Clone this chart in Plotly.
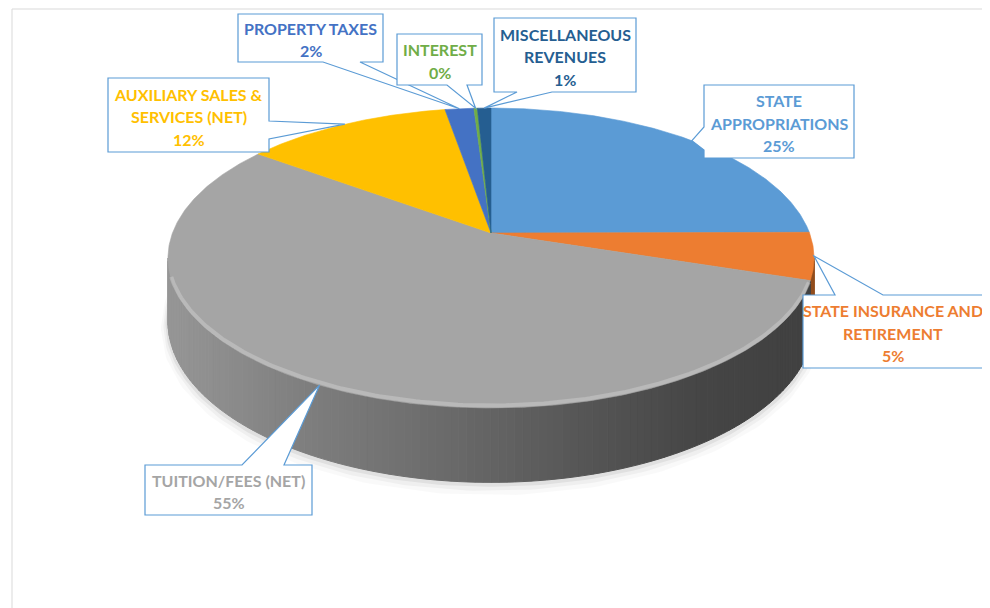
import numpy as np
import plotly.graph_objects as go

# ---------------- data ----------------
categories = ["STATE APPROPRIATIONS", "STATE INSURANCE AND RETIREMENT", "TUITION/FEES (NET)",
              "AUXILIARY SALES & SERVICES (NET)", "PROPERTY TAXES", "INTEREST", "MISCELLANEOUS REVENUES"]
label_lines = [["STATE", "APPROPRIATIONS"], ["STATE INSURANCE AND", "RETIREMENT"], ["TUITION/FEES (NET)"],
               ["AUXILIARY SALES &", "SERVICES (NET)"], ["PROPERTY TAXES"], ["INTEREST"],
               ["MISCELLANEOUS", "REVENUES"]]
values = [25.0, 5.1, 55.3, 12.2, 1.7, 0.2, 0.8]
colors = ["#5B9BD5", "#ED7D31", "#A5A5A5", "#FFC000", "#4472C4", "#70AD47", "#255E91"]

# ---------------- layout of the 3-D pie (pixel space of the page) ----------------
W, H = 990, 608
PAD = 8                    # page body margin
CX, CY = 491, 233          # pie apex
RA, RB = 318.5, 145.8      # horizontal / vertical radius of top face
PERS = 0.1667              # perspective factor
DEPTH = 62                 # wall height

# callout boxes: (x0, y0, x1, y1), edge of the pointer, pointer base positions, text centre x
callouts = [
    ((704, 85, 854, 158), "left", 127, 150, None),
    ((803, 295, 997, 368), "top", 835, 883, 893),
    ((145, 465, 312, 515), "top", 242, 284, None),
    ((108, 78, 269, 152), "right", 121, 139, None),
    ((238, 14, 383, 62), "bottom", 323, 360, None),
    ((397, 34, 482, 85), "bottom", 447, 467, None),
    ((494, 18, 636, 92), "bottom", 517, 552, None),
]
FONT = "Lato"
FSIZE = 16
LINE_GAP = 22.5
BORDER = "#5B9BD5"


def top_pt(theta):
    t = np.radians(theta)
    s = 1 + PERS * np.cos(t)
    return CX + RA * np.sin(t) / s, CY - RB * np.cos(t) / s


def bot_pt(theta):
    t = np.radians(theta)
    s = 1 + PERS * np.cos(t)
    x, y = top_pt(theta)
    return x, y + DEPTH / s


def hex_rgb(h):
    h = h.lstrip("#")
    return tuple(int(h[i:i + 2], 16) for i in (0, 2, 4))


def wall_shade(x):
    return float(np.interp(x, [170, 300, 450, 600, 700, 815], [150, 128, 106, 84, 70, 64]))


total = sum(values)
fracs = [v / total for v in values]
ends = np.cumsum(fracs) * 360
starts = np.concatenate([[0], ends[:-1]])

fig = go.Figure()

# shadow under the pie
th = np.linspace(75, 285, 200)
for off, wdt, alpha in [(6, 14, 0.025), (4, 9, 0.04), (2, 5, 0.06)]:
    pts = [bot_pt(t) for t in th]
    fig.add_trace(go.Scatter(x=[p[0] for p in pts], y=[p[1] + off for p in pts], mode="lines",
                             line=dict(color=f"rgba(0,0,0,{alpha})", width=wdt),
                             hoverinfo="skip", showlegend=False))

# side wall
vis0 = np.degrees(np.arccos(-PERS))
vis1 = 360 - vis0
for i in range(len(values)):
    a0, a1 = max(starts[i], vis0), min(ends[i], vis1)
    if a1 <= a0:
        continue
    n = max(1, int(np.ceil((a1 - a0) / 1.2)))
    edges = np.linspace(a0, a1, n + 1)
    base = hex_rgb(colors[i])
    for k in range(n):
        ta, tb = edges[k], edges[k + 1]
        p1, p2 = top_pt(ta), top_pt(tb)
        p3, p4 = bot_pt(tb), bot_pt(ta)
        g = wall_shade((p1[0] + p2[0]) / 2)
        if colors[i] == "#A5A5A5":
            c = (g, g, g)
        else:
            f = max(g / 165, 0.62)
            c = tuple(v * f for v in base)
        col = "rgb(%d,%d,%d)" % c
        fig.add_trace(go.Scatter(x=[p1[0], p2[0], p3[0], p4[0], p1[0]],
                                 y=[p1[1], p2[1], p3[1], p4[1], p1[1]],
                                 mode="lines", fill="toself", fillcolor=col,
                                 line=dict(color=col, width=1),
                                 hoverinfo="skip", showlegend=False))

# top face wedges
for i in range(len(values)):
    a0, a1 = starts[i], ends[i]
    n = max(2, int(np.ceil((a1 - a0) / 0.5)))
    ang = np.linspace(a0, a1, n + 1)
    pts = [top_pt(t) for t in ang]
    xs = [CX] + [p[0] for p in pts] + [CX]
    ys = [CY] + [p[1] for p in pts] + [CY]
    fig.add_trace(go.Scatter(x=xs, y=ys, mode="lines", fill="toself", fillcolor=colors[i],
                             line=dict(color=colors[i], width=0.6),
                             hoverinfo="skip", showlegend=False, name=categories[i]))

# bevel highlight along the front rim
th = np.linspace(vis0 + 10, vis1 - 8, 200)
pts = [top_pt(t) for t in th]
fig.add_trace(go.Scatter(x=[p[0] for p in pts], y=[p[1] - 2.5 for p in pts], mode="lines",
                         line=dict(color="rgba(215,215,215,0.4)", width=4),
                         hoverinfo="skip", showlegend=False))

# callouts
shapes = [dict(type="rect", xref="x", yref="y", x0=12, y0=9, x1=1005, y1=625,
               line=dict(color="#D9D9D9", width=1), fillcolor="rgba(0,0,0,0)", layer="below")]
annotations = []
for i, (box, edge, b0, b1, tcx) in enumerate(callouts):
    x0, y0, x1, y1 = box
    mid = (starts[i] + ends[i]) / 2
    tx, ty = top_pt(mid)
    tip = f"{tx:.1f},{ty:.1f}"
    if edge == "top":
        path = f"M{x0},{y0} L{b0},{y0} L{tip} L{b1},{y0} L{x1},{y0} L{x1},{y1} L{x0},{y1} Z"
    elif edge == "right":
        path = f"M{x0},{y0} L{x1},{y0} L{x1},{b0} L{tip} L{x1},{b1} L{x1},{y1} L{x0},{y1} Z"
    elif edge == "bottom":
        path = f"M{x0},{y0} L{x1},{y0} L{x1},{y1} L{b1},{y1} L{tip} L{b0},{y1} L{x0},{y1} Z"
    else:
        path = f"M{x0},{y0} L{x1},{y0} L{x1},{y1} L{x0},{y1} L{x0},{b1} L{tip} L{x0},{b0} Z"
    shapes.append(dict(type="path", path=path, xref="x", yref="y", fillcolor="white",
                       line=dict(color=BORDER, width=1.2), layer="above"))
    lines = label_lines[i] + [f"{round(fracs[i] * 100)}%"]
    cxb = tcx if tcx is not None else (x0 + x1) / 2
    cyb = (y0 + y1) / 2 + 1.5
    n = len(lines)
    for k, txt in enumerate(lines):
        yy = cyb + (k - (n - 1) / 2) * LINE_GAP
        annotations.append(dict(x=cxb, y=yy, xref="x", yref="y", text=txt, showarrow=False,
                                font=dict(family=FONT, size=FSIZE, color=colors[i], weight="bold"),
                                xanchor="center", yanchor="middle"))

fig.update_layout(
    width=W - PAD, height=H - PAD, margin=dict(l=0, r=0, t=0, b=0),
    paper_bgcolor="white", plot_bgcolor="white",
    xaxis=dict(range=[PAD, W], visible=False, fixedrange=True),
    yaxis=dict(range=[H, PAD], visible=False, fixedrange=True),
    shapes=shapes, annotations=annotations, showlegend=False,
)
fig.write_html("out.html")
